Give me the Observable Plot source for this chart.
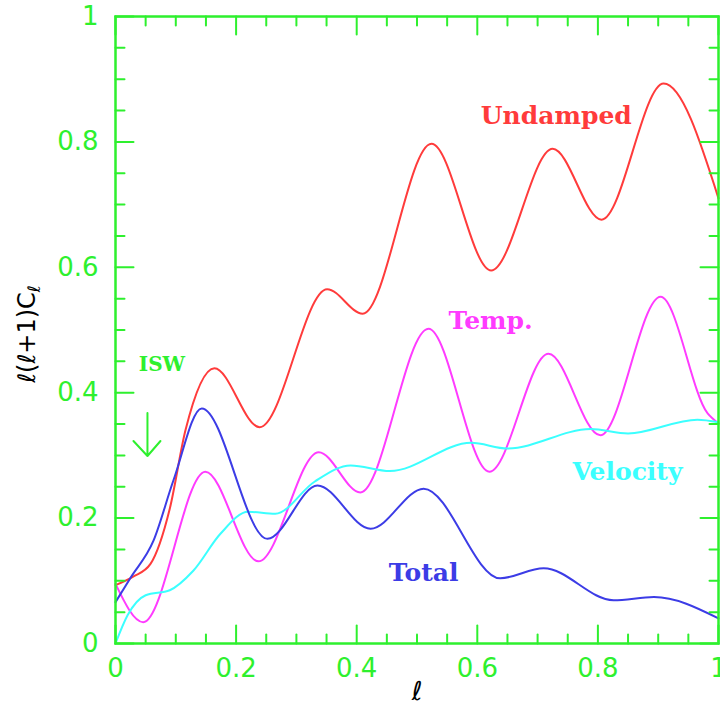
<!DOCTYPE html>
<html><head><meta charset="utf-8">
<script src="https://cdn.jsdelivr.net/npm/d3@7"></script>
<script src="https://cdn.jsdelivr.net/npm/@observablehq/plot@0.6"></script>
<style>body{margin:0;background:#fff;}</style>
</head><body><div id="chart"></div>
<script>
// ---- data ----
const undampedX = [0, 0.03, 0.058, 0.09, 0.116, 0.164, 0.239, 0.351, 0.41, 0.524, 0.623, 0.725, 0.806, 0.909, 1];
const undampedY = [0.093, 0.107, 0.127, 0.215, 0.34, 0.439, 0.345, 0.565, 0.526, 0.797, 0.595, 0.789, 0.676, 0.893, 0.71];

const tempX = [0, 0.046, 0.149, 0.237, 0.337, 0.406, 0.519, 0.62, 0.718, 0.804, 0.904, 0.982, 1];
const tempY = [0.095, 0.034, 0.274, 0.131, 0.305, 0.241, 0.502, 0.274, 0.462, 0.332, 0.553, 0.367, 0.351];

const velocityX = [0, 0.02, 0.05, 0.09, 0.129, 0.174, 0.22, 0.265, 0.33, 0.39, 0.455, 0.59, 0.65, 0.788, 0.85, 0.965, 1];
const velocityY = [0, 0.045, 0.077, 0.085, 0.116, 0.175, 0.21, 0.207, 0.258, 0.284, 0.275, 0.32, 0.311, 0.342, 0.335, 0.357, 0.353];

const totalX = [0, 0.025, 0.063, 0.096, 0.143, 0.252, 0.335, 0.423, 0.511, 0.638, 0.71, 0.826, 0.893, 1];
const totalY = [0.066, 0.105, 0.164, 0.26, 0.375, 0.167, 0.252, 0.183, 0.247, 0.104, 0.12, 0.069, 0.074, 0.04];

const seriesNames = ["Undamped", "Temp.", "Velocity", "Total"];
const seriesColors = ["#ff3b3b", "#ff3bff", "#3bffff", "#3c3ce6"];
const labelX = [0.731, 0.622, 0.849, 0.511];
const labelY = [0.842, 0.515, 0.274, 0.112];

const iswText = ["ISW"];
const iswX = [0.077];
const iswY = [0.445];
const arrowX = [0.053];
const arrowTipY = [0.299];

const majorTicks = [0, 0.2, 0.4, 0.6, 0.8, 1];
const minorTicks = [0.05, 0.1, 0.15, 0.25, 0.3, 0.35, 0.45, 0.5, 0.55, 0.65, 0.7, 0.75, 0.85, 0.9, 0.95];

// ---- build ----
const green = "#2ef02e";
const seriesXs = [undampedX, tempX, velocityX, totalX];
const seriesYs = [undampedY, tempY, velocityY, totalY];
const tickShape = {draw(ctx, l) { ctx.moveTo(0, 0); ctx.lineTo(0, -l); }};
const arrowShape = {draw(ctx, l) { ctx.moveTo(0, -l); ctx.lineTo(0, 0); ctx.moveTo(-14, -15); ctx.lineTo(0, 0); ctx.lineTo(13, -15); }};

const lineMarks = seriesXs.map((xs, i) =>
  Plot.line(xs.map((x, j) => ({x, y: seriesYs[i][j]})), {x: "x", y: "y", stroke: seriesColors[i], strokeWidth: 2, curve: "monotone-x"})
);

function ticks(values, len) {
  return [
    Plot.vector(values, {x: d => d, frameAnchor: "bottom", rotate: 0, length: len, anchor: "start", shape: tickShape, stroke: green, strokeWidth: 2}),
    Plot.vector(values, {x: d => d, frameAnchor: "top", rotate: 180, length: len, anchor: "start", shape: tickShape, stroke: green, strokeWidth: 2}),
    Plot.vector(values, {y: d => d, frameAnchor: "left", rotate: 90, length: len, anchor: "start", shape: tickShape, stroke: green, strokeWidth: 2}),
    Plot.vector(values, {y: d => d, frameAnchor: "right", rotate: -90, length: len, anchor: "start", shape: tickShape, stroke: green, strokeWidth: 2})
  ];
}

const labels = seriesNames.map((name, i) => ({name, x: labelX[i], y: labelY[i], c: seriesColors[i]}));

const plot = Plot.plot({
  width: 720, height: 722,
  marginLeft: 115, marginRight: 2, marginTop: 16, marginBottom: 79,
  x: {domain: [0, 1], label: null},
  y: {domain: [0, 1], label: null},
  style: {background: "white"},
  marks: [
    ...lineMarks,
    Plot.frame({stroke: green, strokeWidth: 2.5}),
    ...ticks(majorTicks, 18),
    ...ticks(minorTicks, 9),
    Plot.axisX(majorTicks, {anchor: "bottom", label: null, tickSize: 0, tickPadding: 15, fontSize: 26, fontFamily: "DejaVu Sans", fill: green, tickFormat: d => String(d)}),
    Plot.axisY(majorTicks, {anchor: "left", label: null, tickSize: 0, tickPadding: 17, fontSize: 26, fontFamily: "DejaVu Sans", fill: green, tickFormat: d => String(d)}),
    Plot.text(labels, {x: "x", y: "y", text: "name", fill: "c", fontSize: 25, fontWeight: "bold", fontFamily: "DejaVu Serif"}),
    Plot.text(iswText, {x: iswX, y: iswY, text: d => d, fill: green, fontSize: 20, fontWeight: "bold", fontFamily: "DejaVu Serif"}),
    Plot.vector(arrowX, {x: d => d, y: (d, i) => arrowTipY[i], length: 43, rotate: 0, anchor: "start", shape: arrowShape, stroke: green, strokeWidth: 2}),
    Plot.text(["ℓ(ℓ+1)C"], {frameAnchor: "left", textAnchor: "middle", dx: -88, dy: 4, rotate: -90, fontSize: 24, fontFamily: "DejaVu Sans", fill: "black"}),
    Plot.text(["ℓ"], {frameAnchor: "bottom", textAnchor: "middle", dy: 56, fontSize: 26, fontStyle: "italic", fontFamily: "DejaVu Sans", fill: "black"})
  ]
});

d3.select(plot).selectAll("text").filter(function() { return this.textContent === "ℓ(ℓ+1)C"; })
  .append("tspan").attr("dy", "0.3em").attr("font-size", "17").text("ℓ");

document.getElementById("chart").appendChild(plot);
</script>
</body></html>
